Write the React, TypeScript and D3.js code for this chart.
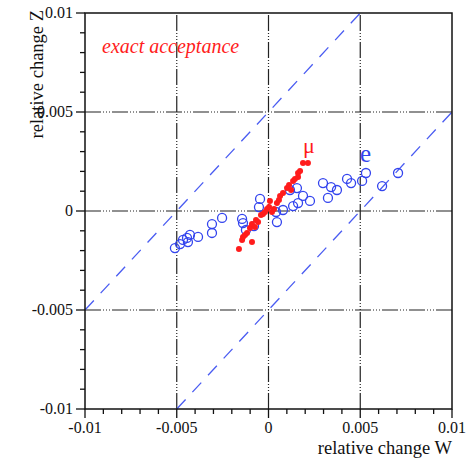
import React from "react";
import * as d3 from "d3";

const majorTicks = [-0.01, -0.005, 0, 0.005, 0.01];
const tickLabels = ["-0.01", "-0.005", "0", "0.005", "0.01"];
const minorTicks = d3.range(-0.01, 0.01001, 0.001);
const gridValues = [-0.005, 0, 0.005];
const bandOffsets = [0.005, -0.005];

const electronW = [-0.0051, -0.00482, -0.00466, -0.00444, -0.00428, -0.00439, -0.00384, -0.00308, -0.00308, -0.00253, -0.00144, -0.00139, -0.00123, -0.00079, -0.00046, -0.00052, 0.00046, 0.00041, 0.00079, 0.00117, 0.00155, 0.00134, 0.00161, 0.00188, 0.00226, 0.00297, 0.00324, 0.00341, 0.00373, 0.00428, 0.0045, 0.0051, 0.00531, 0.00619, 0.00706];
const electronZ = [-0.00187, -0.00167, -0.00146, -0.00136, -0.00121, -0.00157, -0.00131, -0.00066, -0.00111, -0.00035, -0.0004, -0.00061, -0.00096, -0.00076, 0.00061, 0.0002, -0.00056, -0.00005, 0.00005, 0.00106, 0.00116, 0.00025, 0.0004, 0.00076, 0.00051, 0.00141, 0.00066, 0.00121, 0.00106, 0.00162, 0.00141, 0.00152, 0.00192, 0.00126, 0.00192];

const muonW = [-0.00161, -0.00144, -0.00139, -0.00128, -0.00117, -0.0009, -0.00101, -0.0009, -0.00074, -0.00068, -0.00057, -0.00041, -0.0003, -0.00019, -0.00008, 0.00003, 0.00008, 0.00019, 0.0003, 0.00046, 0.00057, 0.00063, 0.00079, 0.00101, 0.00112, 0.00123, 0.00134, 0.00144, 0.00161, 0.00161, 0.00172, 0.00188, 0.00215];
const muonZ = [-0.00192, -0.00146, -0.00131, -0.00121, -0.00111, -0.00157, -0.00086, -0.00066, -0.00081, -0.00045, -0.00056, -0.0002, -0.00015, -0.00005, 0.0001, 0.0002, 0.00051, -0.00005, 0.0001, 0.0004, 0.00056, 0.00076, 0.00091, 0.00116, 0.00131, 0.00106, 0.00152, 0.00162, 0.00172, 0.00192, 0.00202, 0.00242, 0.00242];

const W = 470;
const H = 458;
const x = d3.scaleLinear().domain([-0.01, 0.01]).range([85, 452]);
const y = d3.scaleLinear().domain([-0.01, 0.01]).range([409, 13]);

const SERIF = "Liberation Serif";

export default function App() {
  const gridDash = "16,2,1,2,1,2,1,2";
  const blue = "#3344ee";
  const red = "#ff1c1c";
  const [x0, x1] = x.range();
  const [y0, y1] = y.range();
  return (
    <svg width={W} height={H} style={{ display: "block", position: "absolute", left: 0, top: 0 }}>
      {/* grid */}
      {gridValues.map((v) => (
        <g key={"g" + v}>
          <line x1={x(v)} x2={x(v)} y1={y0} y2={y1} stroke="#222" strokeWidth={1.2} strokeDasharray={gridDash} />
          <line x1={x0} x2={x1} y1={y(v)} y2={y(v)} stroke="#222" strokeWidth={1.2} strokeDasharray={gridDash} />
        </g>
      ))}
      {/* diagonal dashed bands */}
      {bandOffsets.map((o) => {
        const wa = Math.max(-0.01, -0.01 - o);
        const wb = Math.min(0.01, 0.01 - o);
        return (
          <line key={"b" + o} x1={x(wa)} y1={y(wa + o)} x2={x(wb)} y2={y(wb + o)}
            stroke="#4a5cf2" strokeWidth={1.3} strokeDasharray="13,10" />
        );
      })}
      {/* electrons */}
      {electronW.map((w, i) => (
        <circle key={"e" + i} cx={x(w)} cy={y(electronZ[i])} r={4.5} fill="none" stroke={blue} strokeWidth={1.3} />
      ))}
      {/* muons */}
      {muonW.map((w, i) => (
        <circle key={"m" + i} cx={x(w)} cy={y(muonZ[i])} r={3} fill={red} />
      ))}
      {/* frame */}
      <rect x={x0} y={y1} width={x1 - x0} height={y0 - y1} fill="none" stroke="#111" strokeWidth={1.5} />
      {/* ticks */}
      {minorTicks.map((v, i) => {
        const major = majorTicks.some((m) => Math.abs(m - v) < 1e-9);
        const len = major ? 9 : 5;
        return (
          <g key={"t" + i}>
            <line x1={x(v)} x2={x(v)} y1={y0} y2={y0 + len} stroke="#111" strokeWidth={1.3} />
            <line x1={x0} x2={x0 - len} y1={y(v)} y2={y(v)} stroke="#111" strokeWidth={1.3} />
          </g>
        );
      })}
      {majorTicks.map((v, i) => (
        <g key={"l" + i} fontSize={16} fill="#111" fontFamily={SERIF}>
          <text x={x(v)} y={y0 + 24} textAnchor="middle">{tickLabels[i]}</text>
          <text x={x0 - 12} y={y(v) + 5} textAnchor="end">{tickLabels[i]}</text>
        </g>
      ))}
      {/* axis titles */}
      <text x={x1} y={454} textAnchor="end" fontSize={18.5} fill="#111" fontFamily={SERIF}>relative change W</text>
      <text transform={`translate(43,10) rotate(-90)`} textAnchor="end" fontSize={18.5} fill="#111" fontFamily={SERIF}>relative change Z</text>
      {/* annotations */}
      <text x={102} y={53} fontSize={20} fontStyle="italic" fill={red} fontFamily={SERIF}>exact acceptance</text>
      <text x={303} y={153} fontSize={22} fill={red} fontFamily={SERIF}>μ</text>
      <text x={360} y={162} fontSize={25} fill={blue} fontFamily={SERIF}>e</text>
    </svg>
  );
}
